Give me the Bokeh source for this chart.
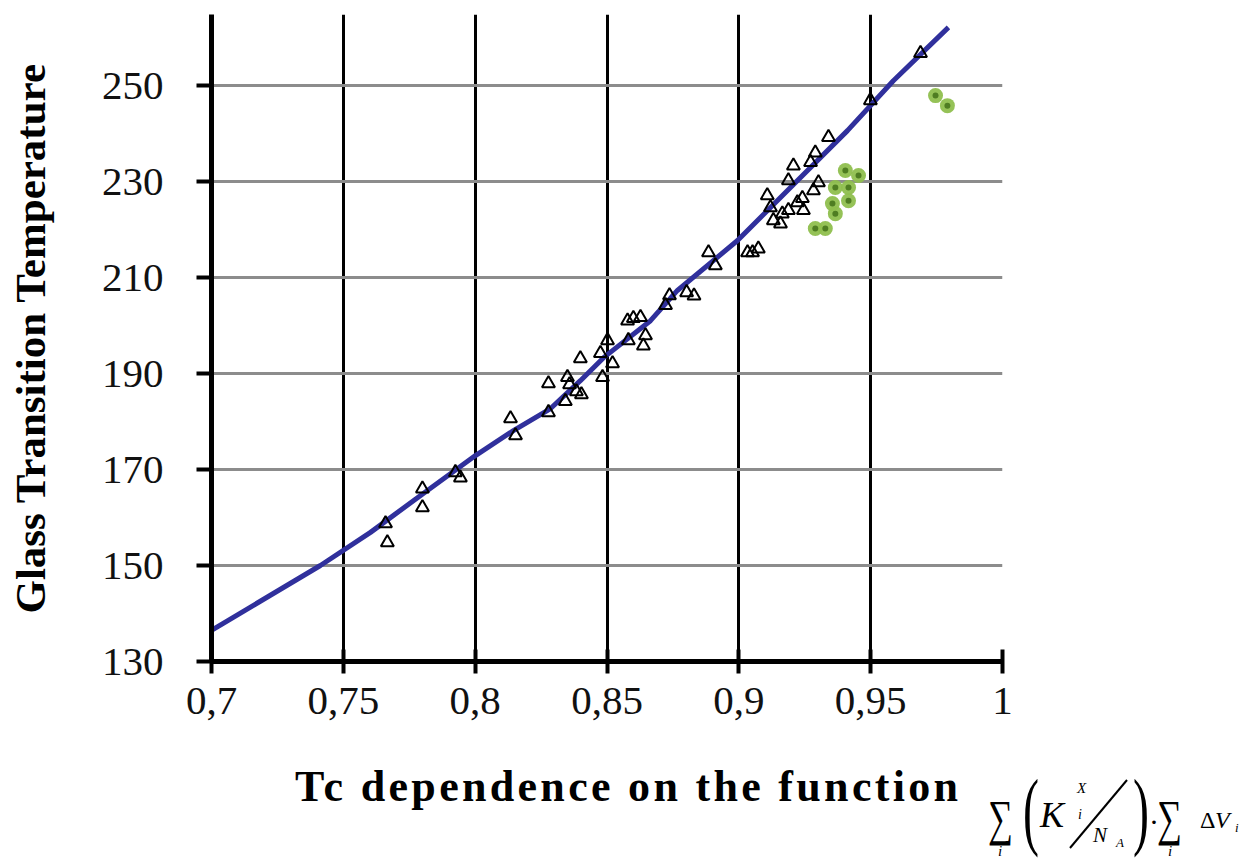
from bokeh.plotting import figure
from bokeh.models import Range1d, CustomJSTickFormatter, Div
from bokeh.layouts import column
from bokeh.embed import file_html
from bokeh.resources import INLINE

# ---------------- data ----------------
tri_x = [0.7660, 0.7667, 0.7800, 0.7800, 0.7925, 0.7944, 0.8134, 0.8153,
         0.8278, 0.8278, 0.8350, 0.8358, 0.8384, 0.8403, 0.8342, 0.8399,
         0.8475, 0.8502, 0.8521, 0.8483, 0.8581, 0.8646, 0.8638, 0.8578,
         0.8600, 0.8627, 0.8737, 0.8722, 0.8802, 0.8830, 0.8885, 0.8911,
         0.9033, 0.9052, 0.9074, 0.9340, 0.9290, 0.9272, 0.9207, 0.9188,
         0.9108, 0.9120, 0.9131, 0.9158, 0.9188, 0.9222, 0.9241, 0.9283,
         0.9302, 0.9245, 0.9165, 0.9499, 0.9689]
tri_y = [158.75, 154.8, 166.0, 162.1, 169.4, 168.3, 180.6, 177.1,
         187.9, 181.9, 189.2, 187.7, 186.25, 185.6, 184.2, 193.1,
         194.2, 196.9, 192.1, 189.2, 196.9, 197.9, 195.8, 201.0,
         201.5, 201.7, 206.25, 204.2, 206.9, 206.2, 215.2, 212.5,
         215.2, 215.2, 216.0, 239.2, 236.0, 234.0, 233.3, 230.2,
         227.1, 224.6, 221.9, 221.2, 224.0, 225.6, 226.5, 228.1,
         229.8, 224.0, 223.3, 246.9, 256.7]

grn_x = [0.9404, 0.9454, 0.9366, 0.9416, 0.9416, 0.9355, 0.9366, 0.9290,
         0.9328, 0.9746, 0.9791]
grn_y = [232.3, 231.25, 228.75, 228.75, 226.0, 225.4, 223.3, 220.2,
         220.2, 247.9, 245.8]

fit_x = [0.700, 0.7413, 0.7603, 0.7793, 0.8001, 0.8145, 0.8286, 0.8399,
         0.8487, 0.8665, 0.8767, 0.8995, 0.9196, 0.9412, 0.9586, 0.9795]
fit_y = [136.5, 150.0, 156.9, 164.6, 172.9, 178.1, 182.7, 188.5,
         193.3, 201.0, 207.3, 217.7, 228.75, 240.6, 251.0, 262.1]

x_ticks = [0.7, 0.75, 0.8, 0.85, 0.9, 0.95, 1.0]
y_ticks = [130, 150, 170, 190, 210, 230, 250]

x_label = "Tc dependence on the function"
y_label = "Glass Transition Temperature"

SERIF = "Liberation Serif"
W = 1247
H_PLOT, H_STRIP = 748, 110
LEFT, RIGHT, TOP, BOTTOM = 211, 245, 14, 87
X0, X1 = 0.7, 1.0
Y0 = 130
PX_PER_Y = 4.8
Y1 = Y0 + (H_PLOT - TOP - BOTTOM) / PX_PER_Y

p = figure(width=W, height=H_PLOT, x_range=Range1d(X0, X1),
           y_range=Range1d(Y0, Y1), output_backend="svg",
           toolbar_location=None, min_border_left=LEFT,
           min_border_right=RIGHT, min_border_top=TOP,
           min_border_bottom=BOTTOM)
p.outline_line_color = None
p.background_fill_color = "white"
p.border_fill_color = "white"

p.xaxis.ticker = x_ticks
p.yaxis.ticker = y_ticks
p.xaxis.formatter = CustomJSTickFormatter(
    code="var s = (Math.round(tick*100)/100).toString(); return s.replace('.', ',');")

p.xgrid.grid_line_color = "black"
p.xgrid.grid_line_width = 3
p.ygrid.grid_line_color = "#8c8c8c"
p.ygrid.grid_line_width = 3

for ax in (p.xaxis, p.yaxis):
    ax.axis_line_color = "black"
    ax.axis_line_width = 5
    ax.major_tick_line_color = "black"
    ax.major_tick_line_width = 4
    ax.minor_tick_line_color = None
    ax.major_label_text_font = SERIF
    ax.major_label_text_font_size = "41px"
    ax.major_label_text_color = "#111111"

p.xaxis.major_tick_in = 12
p.xaxis.major_tick_out = 12
p.xaxis.major_label_standoff = 14

p.yaxis.major_tick_in = 0
p.yaxis.major_tick_out = 15
p.yaxis.major_label_standoff = 33
p.yaxis.axis_label = y_label
p.yaxis.axis_label_text_font = SERIF
p.yaxis.axis_label_text_font_style = "bold"
p.yaxis.axis_label_text_font_size = "43px"
p.yaxis.axis_label_text_color = "black"
p.yaxis.axis_label_standoff = 45

p.line(fit_x, fit_y, line_color="#30309c", line_width=5)
p.scatter(tri_x, tri_y, marker="triangle", size=13, fill_alpha=0,
          line_color="black", line_width=2)
p.scatter(grn_x, grn_y, marker="circle", size=15, fill_color="#8fbf4e",
          line_color=None, fill_alpha=0.95)
p.scatter(grn_x, grn_y, marker="circle", size=6, fill_color="#4f7d22",
          line_color=None)

# ------------- strip below the plot: x label and formula -------------
FONT_CSS = "font-family:'Liberation Serif',serif"


def t(x, y, s, size, style="normal", weight="normal", anchor="start",
      transform=None):
    css = (f'style="{FONT_CSS};font-size:{size}px;font-style:{style};'
           f'font-weight:{weight}"')
    if transform:
        return (f'<text transform="translate({x},{y}) {transform}" {css} '
                f'text-anchor="{anchor}">{s}</text>')
    return f'<text x="{x}" y="{y}" {css} text-anchor="{anchor}">{s}</text>'


parts = [
    f'<text x="295" y="53" style="{FONT_CSS};font-size:44px;font-weight:bold" '
    f'textLength="663" lengthAdjust="spacing">{x_label}</text>',
    t(988, 87, "∑", 50, transform="scale(0.7,1)"),
    t(1000, 108, "i", 15, "italic", anchor="middle"),
    t(1023, 91, "(", 48, transform="scale(1,1.79)"),
    t(1040, 79, "K", 36, "italic"),
    t(1077, 45, "X", 15, "italic"),
    t(1078, 71, "i", 14, "italic"),
    '<line x1="1070" y1="100" x2="1127" y2="32" stroke="black" stroke-width="2"/>',
    t(1093, 94, "N", 21, "italic"),
    t(1116, 99, "A", 13, "italic"),
    t(1133, 91, ")", 48, transform="scale(1,1.79)"),
    t(1149, 84, "·", 30),
    t(1157, 87, "∑", 50, transform="scale(0.7,1)"),
    t(1170, 108, "i", 15, "italic", anchor="middle"),
    t(1200, 80, "Δ", 24),
    t(1215, 80, "V", 24, "italic"),
    t(1235, 84, "i", 13, "italic"),
]
svg = (f'<svg xmlns="http://www.w3.org/2000/svg" width="{W}" height="{H_STRIP}" '
       f'style="display:block" fill="black">' + "".join(parts) + '</svg>')
strip = Div(text=svg, width=W, height=H_STRIP, margin=(0, 0, 0, 0))

layout = column(p, strip, spacing=0)
open("out.html", "w").write(file_html(layout, INLINE))
